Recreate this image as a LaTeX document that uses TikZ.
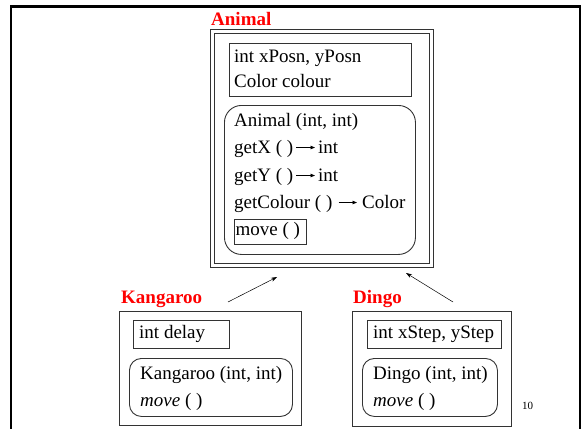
\documentclass[tikz,border=0pt]{standalone}
\usepackage{fontspec}
\setmainfont{Liberation Serif}
\usetikzlibrary{arrows.meta}
\begin{document}
\begin{tikzpicture}[x=1pt,y=-1pt,
  box/.style={draw=black!80, line width=0.9pt, inner sep=0pt, anchor=north west},
  rbox/.style={box, rounded corners=17pt},
  txt/.style={anchor=base west, inner sep=0pt, font=\fontsize{19}{22}\selectfont},
  title/.style={anchor=base west, inner sep=0pt, text=red, font=\fontsize{19}{22}\selectfont\bfseries},
  inh/.style={-{Stealth[length=6pt,width=4pt]}, line width=0.5pt},
  ret/.style={-{Triangle[length=4.5pt,width=3.5pt]}, line width=0.8pt}
]
\useasboundingbox (0,0) rectangle (585,428);
% slide frame
\draw[line width=2.5pt] (11,430) -- (11,6.5) -- (580,6.5) -- (580,430);

% Animal
\node[title] (animalT) at (211,26) {Animal};
\node[box, minimum width=223pt, minimum height=238pt] (aOuter) at (210,29) {};
\node[box, minimum width=215pt, minimum height=230pt] (aInner) at (214,33) {};
\node[box, minimum width=182pt, minimum height=53pt] (aAttr) at (229,43) {};
\node[txt] (aA1) at (234,63) {int xPosn, yPosn};
\node[txt] (aA2) at (234,87) {Color colour};
\node[rbox, minimum width=191pt, minimum height=149pt] (aMeth) at (224,105) {};
\node[txt] (aM1) at (234,126) {Animal (int, int)};
\node[txt] (gx) at (234,153) {getX ( )};
\node[txt] (gxr) at (318,153) {int};
\node[txt] (gy) at (234,181) {getY ( )};
\node[txt] (gyr) at (318,181) {int};
\node[txt] (gc) at (234,208) {getColour ( )};
\node[txt] (gcr) at (362,208) {Color};
\node[box, minimum width=72pt, minimum height=25pt] (mvBox) at (234,219) {};
\node[txt] (mv) at (235.5,235) {move ( )};
\draw[ret] ([xshift=3pt,yshift=5.5pt]gx.base east) -- ([xshift=-3pt,yshift=5.5pt]gxr.base west);
\draw[ret] ([xshift=3pt,yshift=5.5pt]gy.base east) -- ([xshift=-3pt,yshift=5.5pt]gyr.base west);
\draw[ret] ([xshift=6pt,yshift=5.5pt]gc.base east) -- ([xshift=-5pt,yshift=5.5pt]gcr.base west);

% Kangaroo
\node[title] (kT) at (121,303) {Kangaroo};
\node[box, minimum width=182pt, minimum height=114pt] (kOuter) at (119,311) {};
\node[box, minimum width=96pt, minimum height=28pt] (kAttr) at (133,320) {};
\node[txt] (kA1) at (139,338) {int delay};
\node[rbox, minimum width=163pt, minimum height=58pt, rounded corners=12pt] (kMeth) at (129,358) {};
\node[txt] (kM1) at (140,379) {Kangaroo (int, int)};
\node[txt] (kM2) at (140,406) {\itshape move\upshape{} ( )};

% Dingo
\node[title] (dT) at (353,303) {Dingo};
\node[box, minimum width=159pt, minimum height=115pt] (dOuter) at (352,311) {};
\node[box, minimum width=134pt, minimum height=28pt] (dAttr) at (367,320) {};
\node[txt] (dA1) at (373,338) {int xStep, yStep};
\node[rbox, minimum width=135pt, minimum height=58pt, rounded corners=12pt] (dMeth) at (362,358) {};
\node[txt] (dM1) at (373,379) {Dingo (int, int)};
\node[txt] (dM2) at (373,406) {\itshape move\upshape{} ( )};

% inheritance arrows
\coordinate (kTail) at (228,302);
\coordinate (kTip) at (277,277);
\coordinate (dTail) at (453,302);
\coordinate (dTip) at (406,273);
\draw[inh] (kTail) -- (kTip);
\draw[inh] (dTail) -- (dTip);

% page number
\node[anchor=base west, inner sep=0pt, font=\fontsize{11}{13}\selectfont] (pg) at (522,409) {10};
\end{tikzpicture}
\end{document}
